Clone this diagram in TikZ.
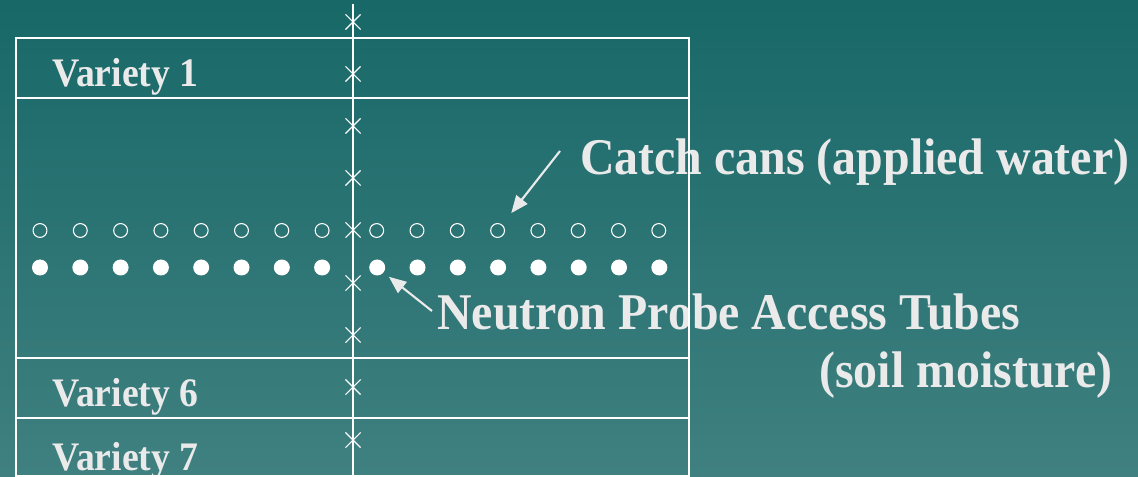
\documentclass[tikz,border=0pt]{standalone}
\usepackage{fontspec}
\setmainfont{Liberation Serif}[FakeStretch=0.93]
\usetikzlibrary{shapes.misc,arrows.meta}
\definecolor{bgtop}{RGB}{24,104,104}
\definecolor{bgbot}{RGB}{64,128,128}
\definecolor{txt}{RGB}{234,234,234}
\begin{document}
\begin{tikzpicture}[x=0.75pt,y=-0.75pt,
 grid/.style={white,line width=1pt},
 xmark/.style={cross out,draw=white,line width=0.8pt,minimum size=10.5pt,inner sep=0pt},
 can/.style={circle,draw=white,line width=0.8pt,minimum size=10.4pt,inner sep=0pt},
 tube/.style={circle,fill=white,minimum size=12pt,inner sep=0pt},
 big/.style={text=txt,font=\bfseries\fontsize{38.6}{40}\selectfont,inner sep=0pt,anchor=base west},
 vlabel/.style={text=txt,font=\bfseries\fontsize{30.4}{31}\selectfont,inner sep=0pt,anchor=base west},
 pointer/.style={draw=txt,line width=1.6pt,-{Triangle[length=13pt,width=10.5pt]}}
]
\useasboundingbox (0,0) rectangle (1138,477);
\shade[top color=bgtop,bottom color=bgbot] (0,0) rectangle (1138,477);

% labels
\node[vlabel] (v1) at (52,87) {Variety 1};
\node[vlabel] (v6) at (52,406) {Variety 6};
\node[vlabel] (v7) at (52,470) {Variety 7};
\node[big] (catch) at (580,175) {Catch cans (applied water)};
\node[big] (neutron) at (437,329) {Neutron Probe Access Tubes};
\node[big] (soil) at (819,387) {(soil moisture)};

% plot grid
\draw[grid] (16,37) -- (16,477);
\draw[grid] (689,37) -- (689,477);
\draw[grid] (353,4) -- (353,477);
\foreach \yy in {38,98,358,418,476}
  \draw[grid] (16,\yy) -- (689,\yy);

% crosses on the centre line
\foreach \yy [count=\i] in {22,74,126,178,230,283,335,387,440}
  \node[xmark] (xm\i) at (353,\yy) {};

% catch cans (open) and access tubes (filled)
\foreach \i in {0,...,7} {
  \node[can]  (cl\i) at (40+40.3*\i,230.5) {};
  \node[tube] (tl\i) at (40+40.3*\i,267.5) {};
  \node[can]  (cr\i) at (376.7+40.3*\i,230.5) {};
  \node[tube] (tr\i) at (377.2+40.3*\i,267.5) {};
}

% pointers
\coordinate (catchtail) at (560,151);
\coordinate (neutrontail) at (432,311);
\draw[pointer,shorten >=11pt] (catchtail) -- (cr3);
\draw[pointer,shorten >=5pt] (neutrontail) -- (tr0);
\end{tikzpicture}
\end{document}
